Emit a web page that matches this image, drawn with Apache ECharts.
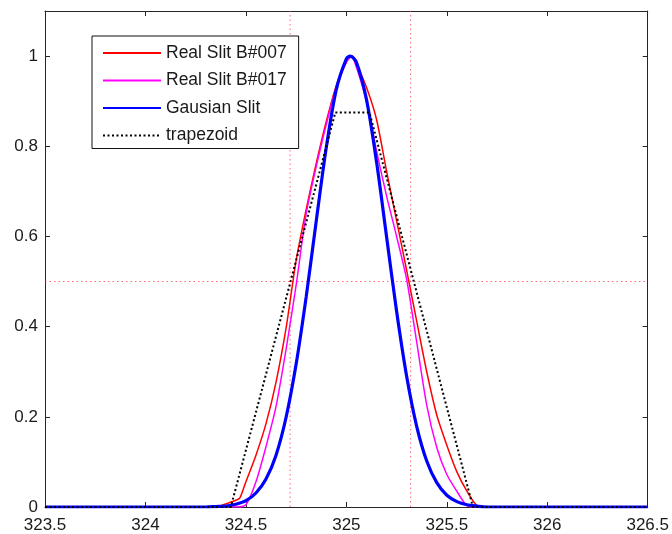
<!DOCTYPE html>
<html>
<head>
<meta charset="utf-8">
<script src="https://cdn.jsdelivr.net/npm/echarts@6/dist/echarts.min.js"></script>
<style>
html,body{margin:0;padding:0;background:#fff;}
#chart{width:672px;height:534px;}
</style>
</head>
<body>
<div id="chart"></div>
<script>
// ---- data ----
const seriesNames = ['Real Slit B#007', 'Real Slit B#017', 'Gausian Slit', 'trapezoid'];

const redX = [323.5, 324.35, 324.40, 324.45, 324.47, 324.50, 324.55, 324.60, 324.65, 324.70, 324.75, 324.80, 324.85, 324.90, 324.95, 325.00, 325.03, 325.05, 325.10, 325.15, 325.20, 325.25, 325.30, 325.35, 325.40, 325.45, 325.50, 325.55, 325.60, 325.65, 325.70, 326.5];
const redY = [0, 0, 0.007, 0.015, 0.02, 0.056, 0.115, 0.185, 0.277, 0.397, 0.547, 0.660, 0.762, 0.855, 0.935, 0.988, 1.0, 0.983, 0.931, 0.860, 0.745, 0.635, 0.525, 0.412, 0.300, 0.204, 0.137, 0.078, 0.035, 0.003, 0, 0];

const magX = [323.5, 324.45, 324.50, 324.55, 324.60, 324.65, 324.70, 324.75, 324.80, 324.85, 324.90, 324.95, 325.00, 325.025, 325.05, 325.10, 325.15, 325.20, 325.25, 325.30, 325.35, 325.40, 325.45, 325.50, 325.55, 325.60, 325.65, 326.5];
const magY = [0, 0, 0.005, 0.056, 0.134, 0.223, 0.350, 0.492, 0.650, 0.755, 0.848, 0.932, 0.986, 1.0, 0.975, 0.900, 0.790, 0.690, 0.600, 0.505, 0.366, 0.226, 0.132, 0.072, 0.035, 0.003, 0, 0];

const gaussX = [323.5, 324.30, 324.35, 324.40, 324.45, 324.50, 324.55, 324.60, 324.65, 324.70, 324.75, 324.80, 324.85, 324.90, 324.95, 325.00, 325.02, 325.05, 325.10, 325.15, 325.20, 325.25, 325.30, 325.35, 325.40, 325.45, 325.50, 325.55, 325.60, 325.65, 325.70, 326.5];
const gaussY = [0, 0, 0.001, 0.002, 0.006, 0.014, 0.031, 0.062, 0.115, 0.199, 0.317, 0.466, 0.634, 0.797, 0.926, 0.994, 1.0, 0.986, 0.904, 0.766, 0.600, 0.434, 0.290, 0.179, 0.102, 0.054, 0.026, 0.012, 0.005, 0.002, 0, 0];

const trapX = [323.5, 324.425, 324.945, 325.115, 325.63, 326.5];
const trapY = [0, 0, 0.875, 0.875, 0, 0];

const halfLevel = 0.5;
const fwhmLeft = 324.72;
const fwhmRight = 325.32;

const xMin = 323.5, xMax = 326.5, xStep = 0.5;
const yMin = 0, yMax = 1.1, yStep = 0.2;

// ---- chart ----
const zip = (xs, ys) => xs.map((x, i) => [x, ys[i]]);
const FONT = "'Liberation Sans', Arial, Helvetica, sans-serif";
const AX = '#262626';

const chart = echarts.init(document.getElementById('chart'), null, {renderer: 'canvas'});

const baseX = {
  type: 'value', min: xMin, max: xMax, interval: xStep,
  splitLine: {show: false},
  axisLine: {show: true, onZero: false, lineStyle: {color: AX, width: 1}},
  axisTick: {show: true, inside: true, length: 5, lineStyle: {color: AX}},
};
const baseY = {
  type: 'value', min: yMin, max: yMax, interval: yStep,
  splitLine: {show: false},
  axisLine: {show: true, onZero: false, lineStyle: {color: AX, width: 1}},
  axisTick: {show: true, inside: true, length: 5, lineStyle: {color: AX}},
};

const refStyle = {color: 'rgba(255,50,70,0.75)', width: 1, type: [1.5, 3]};

chart.setOption({
  animation: false,
  backgroundColor: '#fff',
  grid: {left: 45, right: 24, top: 11, bottom: 27, containLabel: false},
  legend: {
    data: seriesNames,
    orient: 'vertical',
    left: 92, top: 36,
    padding: [8, 12, 4, 10],
    itemWidth: 58, itemHeight: 14, itemGap: 9.5,
    borderColor: '#111', borderWidth: 1, borderRadius: 0,
    backgroundColor: '#fff',
    itemStyle: {opacity: 0},
    textStyle: {fontFamily: FONT, fontSize: 17.5, color: '#1a1a1a', lineHeight: 17},
    selectedMode: false
  },
  xAxis: [
    Object.assign({}, baseX, {
      position: 'bottom',
      axisLabel: {color: '#1a1a1a', fontFamily: FONT, fontSize: 17, margin: 10,
        showMinLabel: true, showMaxLabel: true}
    }),
    Object.assign({}, baseX, {position: 'top', axisLabel: {show: false}})
  ],
  yAxis: [
    Object.assign({}, baseY, {
      position: 'left',
      axisLabel: {color: '#1a1a1a', fontFamily: FONT, fontSize: 17, margin: 7,
        showMaxLabel: false}
    }),
    Object.assign({}, baseY, {position: 'right', axisLabel: {show: false}})
  ],
  series: [
    {name: seriesNames[0], type: 'line', data: zip(redX, redY), symbol: 'none', smooth: 0.25,
      lineStyle: {color: '#ff0000', width: 1.5}, itemStyle: {color: '#ff0000'}, z: 3},
    {name: seriesNames[1], type: 'line', data: zip(magX, magY), symbol: 'none', smooth: 0.25,
      lineStyle: {color: '#ff00ff', width: 1.5}, itemStyle: {color: '#ff00ff'}, z: 4},
    {name: seriesNames[2], type: 'line', data: zip(gaussX, gaussY), symbol: 'none', smooth: 0.3,
      lineStyle: {color: '#0000ff', width: 3.2}, itemStyle: {color: '#0000ff'}, z: 5},
    {name: seriesNames[3], type: 'line', data: zip(trapX, trapY), symbol: 'none',
      lineStyle: {color: '#000000', width: 2, type: [2, 2.5]}, itemStyle: {color: '#000000'}, z: 6},
    {name: 'half', type: 'line', data: [[xMin, halfLevel], [xMax, halfLevel]], symbol: 'none',
      lineStyle: refStyle, z: 2, silent: true},
    {name: 'left', type: 'line', data: [[fwhmLeft, yMin], [fwhmLeft, yMax]], symbol: 'none',
      lineStyle: refStyle, z: 2, silent: true},
    {name: 'right', type: 'line', data: [[fwhmRight, yMin], [fwhmRight, yMax]], symbol: 'none',
      lineStyle: refStyle, z: 2, silent: true}
  ]
});
</script>
</body>
</html>
